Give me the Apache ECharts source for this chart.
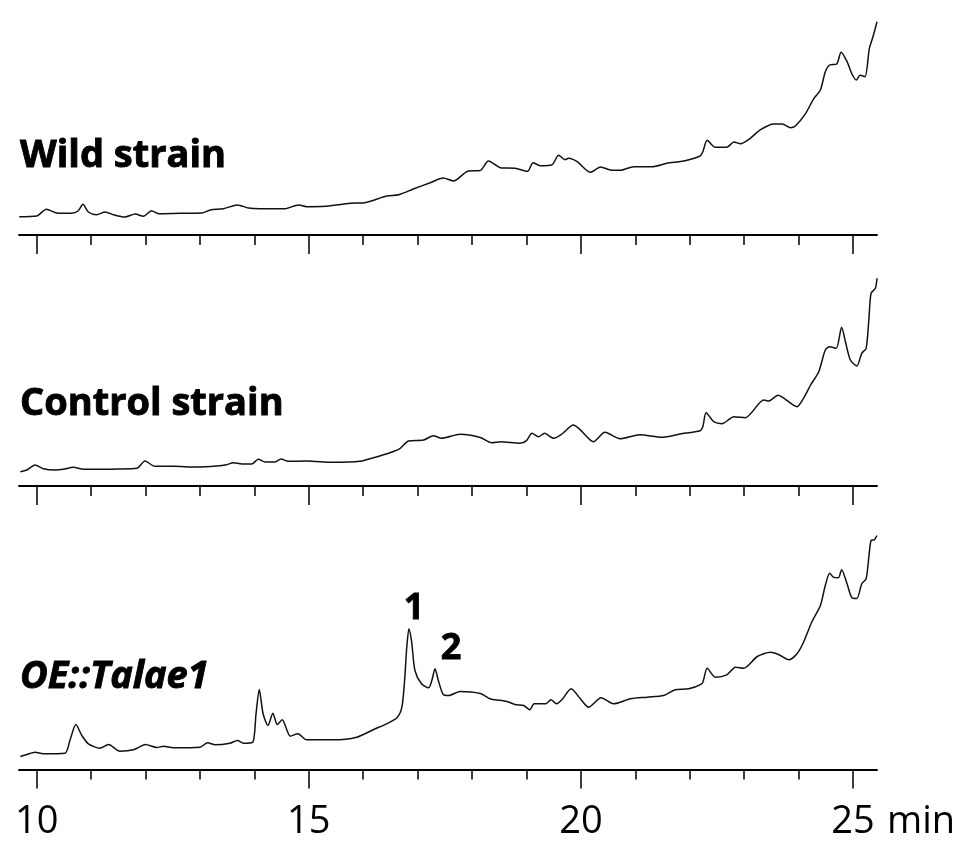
<!DOCTYPE html>
<html>
<head>
<meta charset="utf-8">
<script src="https://cdn.jsdelivr.net/npm/echarts@6/dist/echarts.min.js"></script>
<style>
html,body{margin:0;padding:0;background:#fff;}
#chart{width:975px;height:858px;}
</style>
</head>
<body>
<div id="chart"></div>
<script>
// ---- data (retention time in min, detector signal in arbitrary units) ----
var wildTime = [9.68,10.00,10.18,10.37,10.64,10.76,10.85,10.95,11.10,11.26,11.41,11.62,11.81,11.96,12.11,12.24,12.63,13.03,13.19,13.43,13.69,13.89,14.10,14.56,14.81,14.96,15.30,15.76,16.03,16.43,16.65,16.92,17.23,17.47,17.66,17.93,18.15,18.30,18.52,18.79,19.02,19.12,19.25,19.47,19.59,19.71,19.77,19.93,20.17,20.36,20.54,20.72,20.97,21.31,21.58,21.89,22.19,22.24,22.32,22.47,22.68,22.81,22.93,23.11,23.30,23.54,23.70,23.85,23.94,24.13,24.27,24.40,24.49,24.57,24.70,24.78,24.89,24.98,25.06,25.13,25.22,25.30,25.37,25.44];
var wildSignal = [18.3,19,25.7,22,21.7,24,30.7,23,20.3,23,20.3,18,21,18.7,24.3,21.3,21.7,22,25,26.3,30,27,26.3,26.3,30,28.3,28.7,31.7,32.3,39,40.3,46,52.3,57,54,64,64.5,74,67.3,66.7,63.7,72.3,69.3,70.3,79.7,75.3,76.7,73.3,62.7,68,65,64.7,68.3,68.3,71.7,74,79,83.3,94.7,87.7,87.7,93,91.3,96.7,105.3,111,111,107.3,109,121.7,135.7,145,163.3,170,171,182.7,173.3,161,155,159.7,158.3,186.7,199,213.3];

var controlTime = [9.70,9.82,9.97,10.12,10.34,10.49,10.67,10.86,11.16,11.47,11.84,11.99,12.17,12.51,12.94,13.31,13.49,13.61,13.77,13.95,14.07,14.20,14.38,14.49,14.62,14.96,15.45,15.94,16.19,16.49,16.68,16.83,17.11,17.29,17.44,17.78,18.15,18.36,18.53,18.88,19.00,19.10,19.22,19.33,19.50,19.65,19.86,19.98,20.23,20.44,20.72,21.08,21.49,21.82,22.19,22.24,22.30,22.44,22.59,22.81,23.02,23.36,23.45,23.62,23.97,24.09,24.22,24.37,24.49,24.57,24.69,24.79,24.86,24.95,25.07,25.16,25.24,25.29,25.33,25.41,25.44];
var controlSignal = [14.3,16,21,17.3,16,16.7,18.7,16.7,16.7,17,17.7,25,19.7,19.7,19,20,21.3,23.3,22,22,26.7,24,24,27,24.7,25,23.7,24.7,28.3,33.3,37.7,45,46,50.3,47.7,51.7,48.5,43.3,44.3,42.7,45.3,52.7,49.3,52.7,47.7,52,61,56.7,44.3,53.7,47.3,51.3,48.7,52,55.3,59.3,73.3,64.3,62.3,69.3,68.3,86,85,90.7,79.3,87.7,101,114.3,136,139.3,137.7,158.7,144.3,126,120,132.7,137.7,166,192.7,197.7,207.7];

var oeTime = [9.70,9.82,9.97,10.12,10.52,10.61,10.72,10.83,10.95,11.16,11.32,11.53,11.78,12.00,12.21,12.33,12.51,13.00,13.14,13.28,13.55,13.69,13.80,13.97,14.03,14.09,14.16,14.25,14.34,14.42,14.51,14.66,14.80,14.96,15.45,15.88,16.19,16.43,16.62,16.71,16.76,16.80,16.84,16.89,16.95,17.07,17.20,17.26,17.32,17.38,17.47,17.57,17.78,18.15,18.33,18.42,18.64,18.79,18.95,19.06,19.14,19.35,19.45,19.55,19.65,19.82,19.99,20.14,20.37,20.60,20.91,21.22,21.52,21.73,21.98,22.22,22.25,22.32,22.47,22.68,22.84,22.99,23.24,23.48,23.63,23.82,23.97,24.09,24.24,24.40,24.49,24.57,24.64,24.73,24.79,24.89,24.98,25.07,25.16,25.24,25.29,25.33,25.39,25.44];
var oeSignal = [13,15,17.3,15.7,16.3,29,45,34,25.7,21.3,25,18.3,19.7,25,22,23.3,21.7,22.3,26.7,24.7,26.3,29,26.3,27.3,55.7,80,55.7,44,56.3,45,49.7,33.3,35.7,29.7,29.7,32.3,40,45.7,51.7,62.3,89,122.3,140.7,127.3,99,85.7,81.7,89,100.7,89,75,74,78,76,70.7,69.7,68,65,64,59.7,65.7,65.7,69.7,65.7,69.7,80.7,70.7,62.3,71.7,65.7,70.7,72.3,74,79.7,80.7,85.7,89,101.3,92.3,94.7,102.3,101.3,113,117.3,115,109.7,115.7,127.3,147.3,164,184,196.3,192.3,191.7,199.7,185.7,171.7,171,185.7,190.7,212.3,229,229.7,234];

var panelNames = ['Wild strain', 'Control strain', 'OE::Talae1'];
var minorTicks = [10,11,12,13,14,15,16,17,18,19,20,21,22,23,24,25];
var majorTicks = [10,15,20,25];
var axisUnit = 'min';
var peakTime = [16.84, 17.32];
var peakSignal = [140.7, 100.7];
var peakLabels = ['1', '2'];

// ---- build ----
function zip(a, b) { return a.map(function (v, i) { return [v, b[i]]; }); }
var seriesData = [zip(wildTime, wildSignal), zip(controlTime, controlSignal), zip(oeTime, oeSignal)];

var FONT = "'Open Sans', 'Noto Sans', sans-serif";
var X_MIN = 9.675, X_MAX = 25.44;
var grids = [
  {left: 19, width: 858, top: 0, height: 235},
  {left: 19, width: 858, top: 250, height: 236},
  {left: 19, width: 858, top: 520, height: 249.5}
];
var xAxes = [], yAxes = [], series = [];
grids.forEach(function (g, i) {
  var last = (i === grids.length - 1);
  xAxes.push({
    type: 'value', gridIndex: i, min: X_MIN, max: X_MAX,
    splitLine: {show: false},
    axisLine: {show: true, onZero: false, lineStyle: {color: '#000', width: 1.8}},
    axisTick: {show: true, customValues: minorTicks, length: 10, lineStyle: {color: '#000', width: 1.5}},
    axisLabel: {show: false}
  });
  xAxes.push({
    type: 'value', gridIndex: i, min: X_MIN, max: X_MAX, position: 'bottom',
    splitLine: {show: false},
    axisLine: {show: false, onZero: false},
    axisTick: {show: true, customValues: majorTicks, length: 19, lineStyle: {color: '#000', width: 1.5}},
    axisLabel: last ? {show: true, customValues: majorTicks, margin: 34,
      fontFamily: FONT, fontSize: 38, color: '#000'} : {show: false},
    name: last ? axisUnit : '',
    nameLocation: 'end', nameGap: 10,
    nameTextStyle: {fontFamily: FONT, fontSize: 38, color: '#000', verticalAlign: 'top', padding: [34, 0, 0, 0]}
  });
  yAxes.push({
    type: 'value', gridIndex: i, min: 0, max: g.height, show: false
  });
  var s = {
    type: 'line', xAxisIndex: 2 * i, yAxisIndex: i,
    data: seriesData[i], showSymbol: false, smooth: 0.25,
    lineStyle: {color: '#111', width: 1.5}, silent: true, animation: false
  };
  if (last) {
    s.markPoint = {
      symbol: 'circle', symbolSize: 0, animation: false,
      data: peakTime.map(function (t, k) {
        return {coord: [t, peakSignal[k]], value: peakLabels[k],
          label: {show: true, position: 'inside', offset: k === 0 ? [5, -20] : [16, -20.5],
            formatter: peakLabels[k], fontFamily: FONT, fontSize: 36, fontWeight: 'bold', color: '#000',
            textBorderColor: '#000', textBorderWidth: 0.8}};
      })
    };
  }
  series.push(s);
});

var titleTops = [137, 385, 658];
var titles = panelNames.map(function (n, i) {
  return {text: n, left: 20, top: titleTops[i], padding: 0,
    textStyle: {fontFamily: FONT, fontSize: 38, fontWeight: 'bold', color: '#000',
      textBorderColor: '#000', textBorderWidth: 0.9,
      fontStyle: i === 2 ? 'italic' : 'normal'}};
});

var chart = echarts.init(document.getElementById('chart'), null, {renderer: 'canvas'});
chart.setOption({
  backgroundColor: '#fff',
  animation: false,
  title: titles,
  grid: grids,
  xAxis: xAxes,
  yAxis: yAxes,
  series: series
});
</script>
</body>
</html>
